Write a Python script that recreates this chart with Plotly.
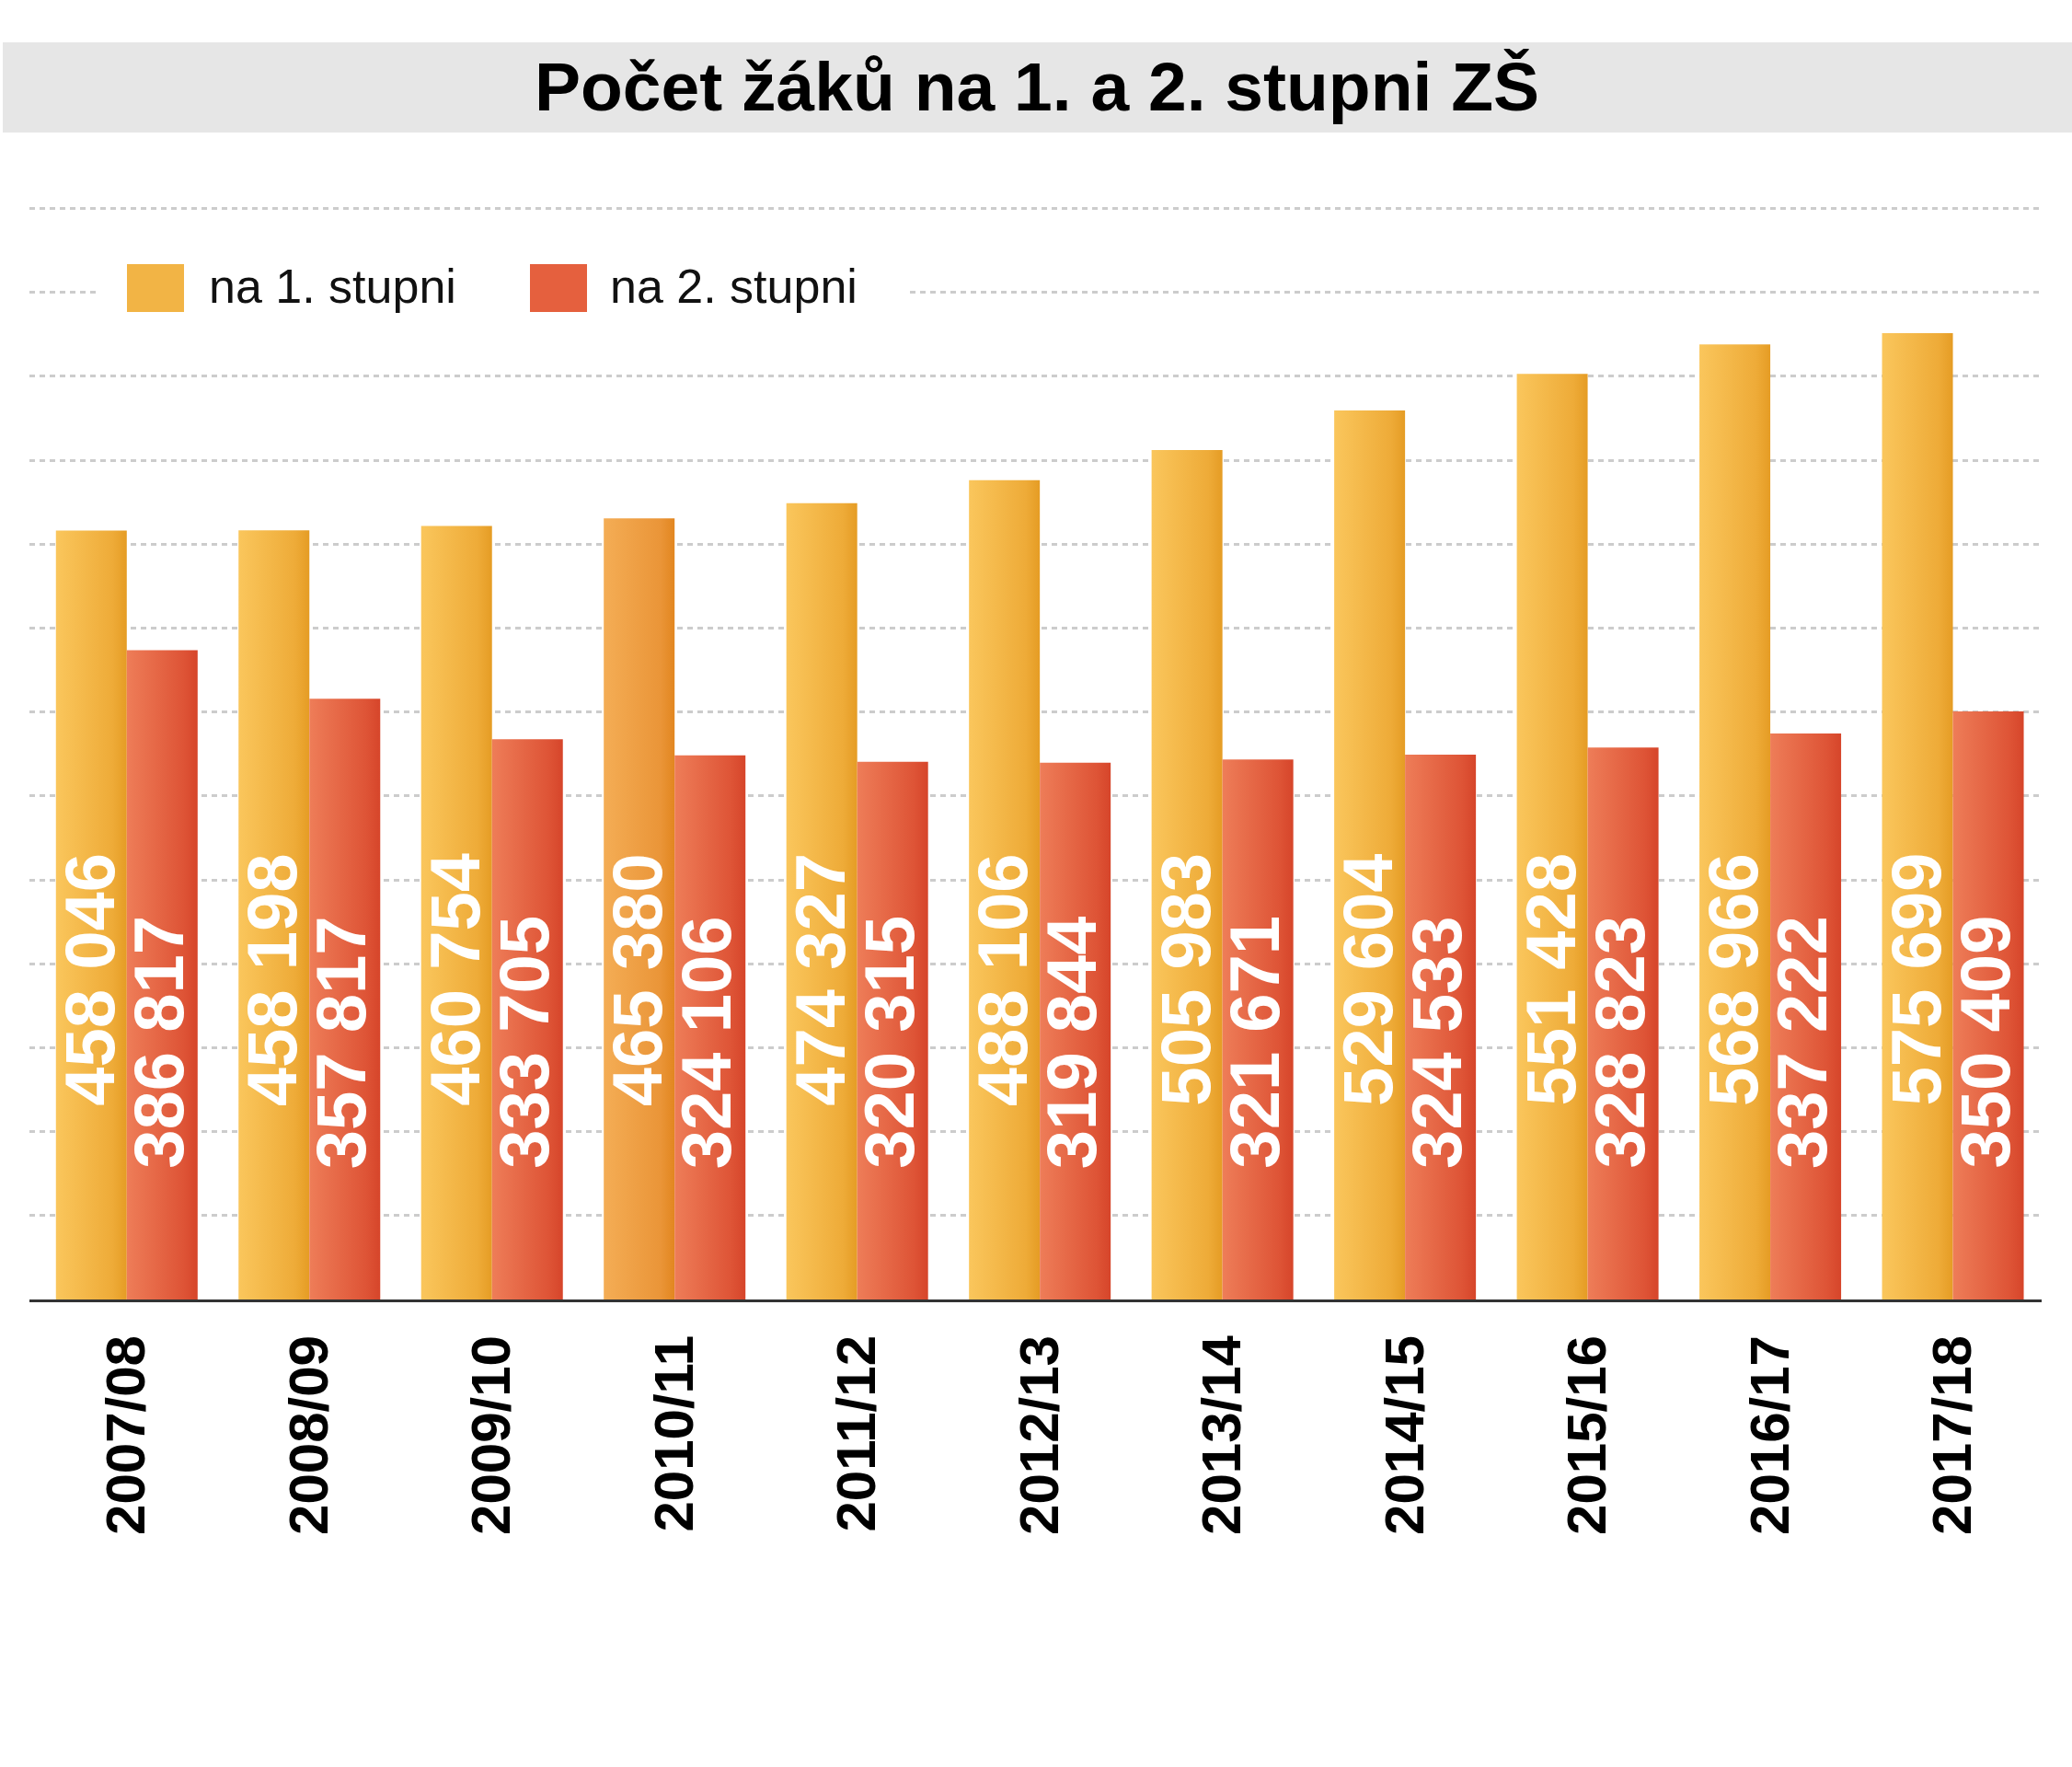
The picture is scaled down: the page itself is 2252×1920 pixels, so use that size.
import json
import plotly.graph_objects as go

# ---- data ----
years = ["2007/08", "2008/09", "2009/10", "2010/11", "2011/12", "2012/13",
         "2013/14", "2014/15", "2015/16", "2016/17", "2017/18"]
stupen1 = [458046, 458198, 460754, 465380, 474327, 488106, 505983, 529604,
           551428, 568966, 575699]
stupen2 = [386817, 357817, 333705, 324106, 320315, 319844, 321671, 324533,
           328823, 337222, 350409]
series_names = ["na 1. stupni", "na 2. stupni"]
title_text = "Počet žáků na 1. a 2. stupni ZŠ"

# ---- style ----
W, H = 2252, 1920
ML, MR, MT, MB = 32, 33, 200, 508
PW, PH = W - ML - MR, H - MT - MB
FONT = "Liberation Sans, Arial, sans-serif"

orange_base = "#F2B445"
orange_alt = "#EE9C3E"   # 2010/11 bar is a deeper orange
red_base = "#E5603E"

orange_colors = [orange_alt if y == "2010/11" else orange_base for y in years]
red_colors = [red_base] * len(years)

# gradient stops (left -> right) keyed by base colour
grads = {
    orange_base: [["0%", "#FAC65C"], ["80%", "#EEAB38"], ["100%", "#E59C24"]],
    orange_alt: [["0%", "#F4AD55"], ["80%", "#EA9538"], ["100%", "#E2861F"]],
    red_base: [["0%", "#EE7D58"], ["80%", "#DE5436"], ["100%", "#D6452A"]],
}

def fmt(v):
    return f"{v:,}".replace(",", " ")

fig = go.Figure()
fig.add_trace(go.Bar(x=years, y=stupen1, name=series_names[0],
                     marker=dict(color=orange_colors, line=dict(width=0)),
                     showlegend=False, hoverinfo="skip"))
fig.add_trace(go.Bar(x=years, y=stupen2, name=series_names[1],
                     marker=dict(color=red_colors, line=dict(width=0)),
                     showlegend=False, hoverinfo="skip"))

annotations = []
bar_off = 38.5
LBL = dict(family=FONT, size=76, color="white")
for yr, v1, v2 in zip(years, stupen1, stupen2):
    annotations.append(dict(x=yr, y=0, xref="x", yref="y",
                            text="<b>" + fmt(v1) + "</b>",
                            textangle=-90, showarrow=False, xanchor="center",
                            yanchor="bottom", xshift=-bar_off - 2, yshift=209,
                            font=LBL, borderpad=0))
    annotations.append(dict(x=yr, y=0, xref="x", yref="y",
                            text="<b>" + fmt(v2) + "</b>",
                            textangle=-90, showarrow=False, xanchor="center",
                            yanchor="bottom", xshift=bar_off - 4, yshift=141,
                            font=LBL, borderpad=0))

def px2px(x):
    return (x - ML) / PW

def py2py(y):
    return (MT + PH - y) / PH

shapes = [
    # title band
    dict(type="rect", xref="paper", yref="paper", x0=px2px(3), x1=px2px(W),
         y0=py2py(144), y1=py2py(46), fillcolor="#E6E6E6", line=dict(width=0),
         layer="below"),
    # legend background (hides grid line)
    dict(type="rect", xref="paper", yref="paper", x0=px2px(108), x1=px2px(984),
         y0=py2py(345), y1=py2py(282), fillcolor="white", line=dict(width=0),
         layer="above"),
    # legend swatches
    dict(type="rect", xref="paper", yref="paper", x0=px2px(138), x1=px2px(200),
         y0=py2py(339), y1=py2py(287), fillcolor=orange_base, line=dict(width=0),
         layer="above"),
    dict(type="rect", xref="paper", yref="paper", x0=px2px(576), x1=px2px(638),
         y0=py2py(339), y1=py2py(287), fillcolor=red_base, line=dict(width=0),
         layer="above"),
]

annotations.append(dict(x=px2px(1127), y=py2py(94), xref="paper", yref="paper",
                        text="<b>" + title_text + "</b>", showarrow=False,
                        xanchor="center", yanchor="middle",
                        font=dict(family=FONT, size=75, color="#000")))
annotations.append(dict(x=px2px(225), y=py2py(311), xref="paper", yref="paper",
                        text=series_names[0], showarrow=False,
                        xanchor="left", yanchor="middle",
                        font=dict(family=FONT, size=52, color="#111")))
annotations.append(dict(x=px2px(661), y=py2py(311), xref="paper", yref="paper",
                        text=series_names[1], showarrow=False,
                        xanchor="left", yanchor="middle",
                        font=dict(family=FONT, size=52, color="#111")))

fig.update_layout(
    width=W, height=H,
    margin=dict(l=ML, r=MR, t=MT, b=MB, autoexpand=False),
    paper_bgcolor="white", plot_bgcolor="white",
    barmode="group", bargap=0.224, bargroupgap=0,
    showlegend=False,
    shapes=shapes, annotations=annotations,
    font=dict(family=FONT),
)
fig.update_xaxes(
    type="category", range=[-0.533, 10.486],
    showline=True, linecolor="#333333", linewidth=3,
    showgrid=False, ticks="", tickangle=-90,
    tickfont=dict(family=FONT, size=60, color="#000"),
    ticklabelstandoff=12, zeroline=False,
)
fig.update_yaxes(
    range=[0, 664500], dtick=50000, tick0=0,
    showgrid=True, gridcolor="#CCCCCC", gridwidth=3, griddash="6px,5px",
    showticklabels=False, ticks="", zeroline=False, showline=False,
)
# bold tick labels
fig.update_xaxes(tickvals=years, ticktext=["<b>" + y + "</b>" for y in years])

bar_colors = [orange_colors, red_colors]
js = """
var gd = document.getElementById('{plot_id}');
var grads = %s;
var barColors = %s;
var svg = gd.querySelector('svg.main-svg');
var defs = svg.querySelector('defs');
var ns = 'http://www.w3.org/2000/svg';
var ids = {};
var k = 0;
Object.keys(grads).forEach(function(c){
  var g = document.createElementNS(ns, 'linearGradient');
  var id = 'bargrad' + (k++);
  g.setAttribute('id', id);
  g.setAttribute('x1', '0'); g.setAttribute('y1', '0');
  g.setAttribute('x2', '1'); g.setAttribute('y2', '0');
  grads[c].forEach(function(s){
    var st = document.createElementNS(ns, 'stop');
    st.setAttribute('offset', s[0]);
    st.setAttribute('stop-color', s[1]);
    g.appendChild(st);
  });
  defs.appendChild(g);
  ids[c] = id;
});
var traces = gd.querySelectorAll('g.trace.bars');
traces.forEach(function(tr, ti){
  var paths = tr.querySelectorAll('g.point path');
  paths.forEach(function(p, pi){
    var c = barColors[ti][pi];
    if (ids[c]) { p.style.fill = 'url(#' + ids[c] + ')'; }
  });
});
""" % (json.dumps(grads), json.dumps(bar_colors))

fig.write_html("out.html", post_script=js)
